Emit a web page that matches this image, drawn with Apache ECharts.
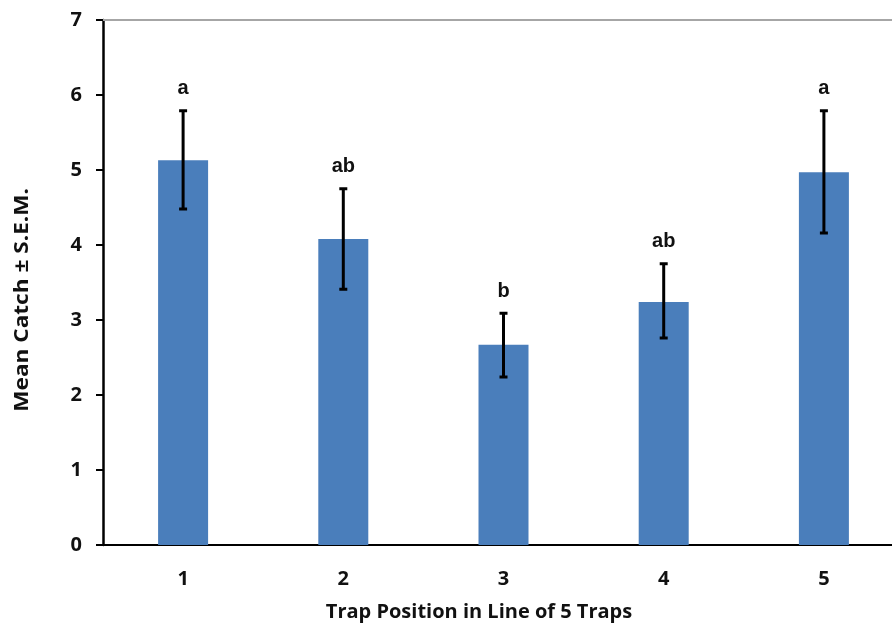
<!DOCTYPE html>
<html>
<head>
<meta charset="utf-8">
<script src="https://cdn.jsdelivr.net/npm/echarts@6/dist/echarts.min.js"></script>
<style>html,body{margin:0;padding:0;background:#fff;overflow:hidden;width:892px;height:627px;}#c{width:904px;height:627px;}</style>
</head>
<body>
<div id="c"></div>
<script>
const categories = ['1', '2', '3', '4', '5'];
const means = [5.13, 4.08, 2.67, 3.24, 4.97];
const errHigh = [5.79, 4.75, 3.09, 3.75, 5.79];
const errLow = [4.48, 3.41, 2.24, 2.76, 4.16];
const letters = ['a', 'ab', 'b', 'ab', 'a'];
const yTicks = [0, 1, 2, 3, 4, 5, 6, 7];

const chart = echarts.init(document.getElementById('c'));
const fontAxis = '"Open Sans", "DejaVu Sans", sans-serif';
chart.setOption({
  animation: false,
  backgroundColor: '#ffffff',
  grid: { left: 103, right: 0, top: 20, bottom: 82, containLabel: false },
  xAxis: [{
    type: 'category',
    data: categories,
    axisLine: { lineStyle: { color: '#000', width: 2 } },
    axisTick: { show: false },
    axisLabel: { color: '#111', fontFamily: fontAxis, fontWeight: 'bold', fontSize: 20, margin: 24 }
  }, {
    type: 'category',
    data: categories,
    position: 'top',
    axisLine: { lineStyle: { color: '#a6a6a6', width: 2 } },
    axisTick: { show: false },
    axisLabel: { show: false }
  }],
  yAxis: {
    type: 'value',
    min: yTicks[0],
    max: yTicks[yTicks.length - 1],
    interval: 1,
    axisLine: { show: true, lineStyle: { color: '#000', width: 2.5 } },
    axisTick: { show: true, inside: false, length: 7, lineStyle: { color: '#000', width: 2 } },
    splitLine: { show: false },
    axisLabel: { color: '#111', fontFamily: fontAxis, fontWeight: 'bold', fontSize: 20, margin: 21 }
  },
  graphic: [{
    type: 'text',
    left: 12,
    top: 188,
    rotation: Math.PI / 2,
    scaleX: 1.13,
    style: { text: 'Mean Catch ± S.E.M.', fill: '#111', font: 'bold 20px ' + fontAxis }
  }, {
    type: 'text',
    x: 479,
    y: 612,
    style: { text: 'Trap Position in Line of 5 Traps', fill: '#111', font: 'bold 20px ' + fontAxis, align: 'center', verticalAlign: 'middle' }
  }],
  series: [{
    type: 'bar',
    data: means,
    barWidth: 50,
    itemStyle: { color: '#4a7ebb' }
  }, {
    type: 'custom',
    data: categories.map((c, i) => [i, errLow[i], errHigh[i]]),
    encode: { x: 0, y: [1, 2] },
    z: 10,
    renderItem: function (params, api) {
      const i = api.value(0);
      const lo = api.coord([i, api.value(1)]);
      const hi = api.coord([i, api.value(2)]);
      const cap = 4;
      const style = { stroke: '#000', lineWidth: 3 };
      return {
        type: 'group',
        children: [
          { type: 'line', shape: { x1: hi[0], y1: hi[1], x2: lo[0], y2: lo[1] }, style: style },
          { type: 'line', shape: { x1: hi[0] - cap, y1: hi[1], x2: hi[0] + cap, y2: hi[1] }, style: style },
          { type: 'line', shape: { x1: lo[0] - cap, y1: lo[1], x2: lo[0] + cap, y2: lo[1] }, style: style },
          { type: 'text', x: hi[0], y: hi[1] - 22, style: { text: letters[params.dataIndex], fill: '#111', font: 'bold 20px "Liberation Sans", Arial, sans-serif', align: 'center', verticalAlign: 'middle' } }
        ]
      };
    }
  }]
});
</script>
</body>
</html>
